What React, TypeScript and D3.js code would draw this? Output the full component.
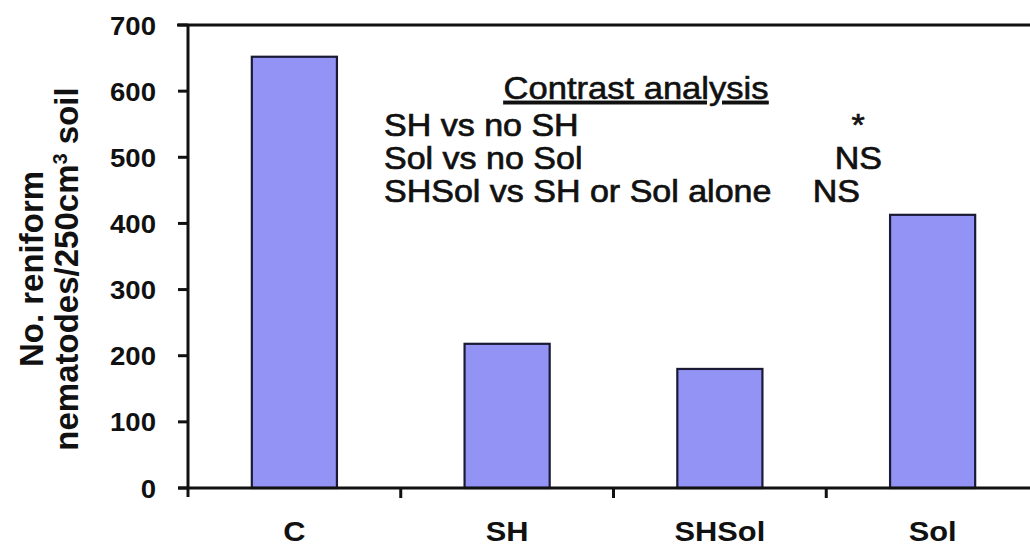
import React from "react";
import * as d3 from "d3";

const categories = ["C", "SH", "SHSol", "Sol"];
const values = [652, 218, 180, 413];
const yTicks = [0, 100, 200, 300, 400, 500, 600, 700];
const contrastRows = ["SH vs no SH", "Sol vs no Sol", "SHSol vs SH or Sol alone"];
const contrastResults = ["*", "NS", "NS"];

const W = 1030;
const H = 552;
const FONT = "'Liberation Sans', Arial, sans-serif";

function T(props: {
  x: number;
  y: number;
  sx?: number;
  anchor?: string;
  size: number;
  bold?: boolean;
  thick?: number;
  underline?: boolean;
  children: React.ReactNode;
}) {
  const { x, y, sx = 1.08, anchor = "start", size, bold, thick = 0, underline, children } = props;
  return (
    <g transform={`translate(${x},${y}) scale(${sx},1)`}>
      <text
        x={0}
        y={0}
        textAnchor={anchor as any}
        fontSize={size}
        fontWeight={bold ? "bold" : "normal"}
        fill="#111"
        stroke={thick ? "#111" : "none"}
        strokeWidth={thick}
        textDecoration={underline ? "underline" : undefined}
      >
        {children}
      </text>
    </g>
  );
}

export default function App() {
  const x = d3
    .scaleBand<string>()
    .domain(categories)
    .range([188, 1039])
    .paddingInner(0.6)
    .paddingOuter(0.3);
  const step = x.step();
  const y = d3.scaleLinear().domain([0, 700]).range([488, 25]);
  const resultX = [858, 882, 860];
  const resultAnchor = ["middle", "end", "end"];

  return (
    <svg
      width={W}
      height={H}
      style={{ position: "absolute", left: 0, top: 0, background: "#fff" }}
      fontFamily={FONT}
    >
      {/* bars */}
      {categories.map((c, i) => (
        <rect
          key={c}
          x={x(c)}
          y={y(values[i])}
          width={x.bandwidth()}
          height={y(0) - y(values[i])}
          fill="#9393f5"
          stroke="#1a1a36"
          strokeWidth={2.2}
        />
      ))}
      {/* top border */}
      <line x1={177} x2={W} y1={y(700)} y2={y(700)} stroke="#111" strokeWidth={3} />
      {/* y axis */}
      <line x1={188} x2={188} y1={y(700)} y2={y(0) + 9} stroke="#111" strokeWidth={3} />
      {yTicks.map((t) => (
        <g key={t}>
          <line x1={178} x2={188} y1={y(t)} y2={y(t)} stroke="#111" strokeWidth={3} />
          <T x={156} y={y(t) + 9.5} anchor="end" size={26} bold sx={1.06}>
            {t}
          </T>
        </g>
      ))}
      {/* x axis */}
      <line x1={178} x2={W} y1={y(0)} y2={y(0)} stroke="#111" strokeWidth={3} />
      {categories.map((c) => (
        <g key={c}>
          <line
            x1={(x(c) as number) - step * 0.3 + step}
            x2={(x(c) as number) - step * 0.3 + step}
            y1={y(0)}
            y2={y(0) + 10}
            stroke="#111"
            strokeWidth={3}
          />
          <T
            x={(x(c) as number) + x.bandwidth() / 2}
            y={541}
            anchor="middle"
            size={28}
            bold
            sx={1.1}
          >
            {c}
          </T>
        </g>
      ))}
      {/* y title */}
      <g transform="translate(43,269) rotate(-90)">
        <text x={0} y={0} textAnchor="middle" fontSize={33} fontWeight="bold" fill="#111">
          No. reniform
        </text>
        <text x={0} y={35} textAnchor="middle" fontSize={33} fontWeight="bold" fill="#111">
          nematodes/250cm
          <tspan dy={-11} fontSize={20}>3</tspan>
          <tspan dy={11}> soil</tspan>
        </text>
      </g>
      {/* contrast analysis */}
      <T x={636} y={99} anchor="middle" size={32} thick={0.6} underline>
        Contrast analysis
      </T>
      {contrastRows.map((r, i) => (
        <g key={r}>
          <T x={384} y={136 + i * 33} size={31.5} thick={0.7}>
            {r}
          </T>
          <T x={resultX[i]} y={136 + i * 33} anchor={resultAnchor[i]} size={31.5} thick={0.7}>
            {contrastResults[i]}
          </T>
        </g>
      ))}
    </svg>
  );
}
